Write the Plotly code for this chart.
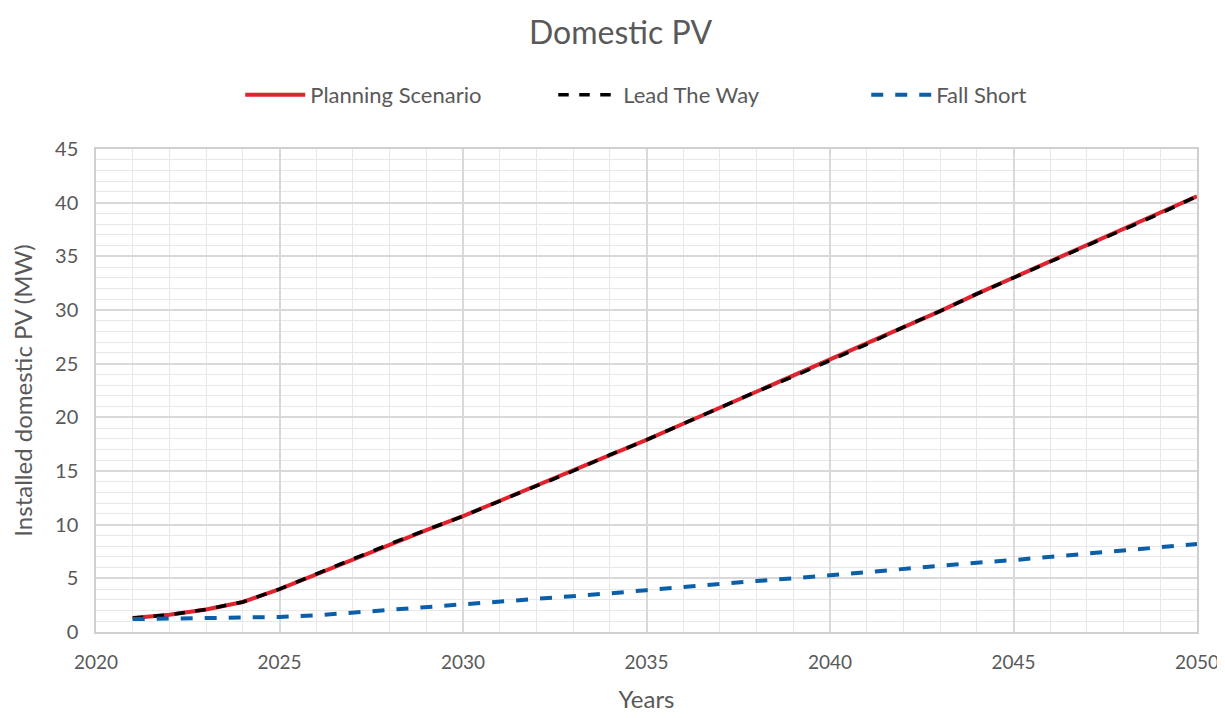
import plotly.graph_objects as go

years = list(range(2021, 2051))
planning = [1.3, 1.6, 2.1, 2.8, 4.0, 5.4, 6.8, 8.2, 9.5, 10.8,
            12.2, 13.6, 15.0, 16.5, 17.9, 19.4, 20.9, 22.4, 23.8, 25.3,
            26.8, 28.4, 29.9, 31.5, 33.0, 34.5, 36.0, 37.5, 39.0, 40.6]
lead_the_way = list(planning)
fall_short = [1.2, 1.25, 1.3, 1.35, 1.4, 1.55, 1.8, 2.05, 2.3, 2.6,
              2.85, 3.1, 3.35, 3.6, 3.9, 4.2, 4.45, 4.75, 5.0, 5.3,
              5.6, 5.9, 6.15, 6.45, 6.7, 7.0, 7.3, 7.6, 7.9, 8.2]

font_family = "Lato, 'Open Sans', sans-serif"
text_col = "#595959"

fig = go.Figure()
fig.add_trace(go.Scatter(x=years, y=planning, mode="lines", name="Planning Scenario",
                         line=dict(color="#e0242f", width=4)))
fig.add_trace(go.Scatter(x=years, y=lead_the_way, mode="lines", name="Lead The Way",
                         line=dict(color="#000000", width=3.5, dash="dash")))
fig.add_trace(go.Scatter(x=years, y=fall_short, mode="lines", name="Fall Short",
                         line=dict(color="#0a5fa8", width=4, dash="dash")))

fig.update_layout(
    width=1225, height=718,
    paper_bgcolor="white", plot_bgcolor="white",
    margin=dict(l=88, r=36, t=141, b=94, autoexpand=False),
    font=dict(family=font_family, color=text_col, size=20),
    title=dict(text="Domestic PV", x=0.5, xanchor="center", y=0.966, yanchor="middle",
               font=dict(size=32, color=text_col)),
    legend=dict(orientation="h", x=0.131, xanchor="left", y=1.112, yanchor="middle",
                font=dict(size=22, color=text_col), itemwidth=60, entrywidth=238),
    showlegend=True,
)
fig.update_xaxes(
    range=[2020, 2050], dtick=5, tick0=2020, automargin=False,
    showgrid=True, gridcolor="#d9d9d9", gridwidth=1.5,
    minor=dict(dtick=1, showgrid=True, gridcolor="#e8e8e8", gridwidth=1),
    showline=True, linecolor="#d0d0d0", linewidth=1.5, mirror=True,
    ticks="", zeroline=False, ticklabelstandoff=12,
    title=dict(text="Years", font=dict(size=24, color=text_col), standoff=20),
    tickfont=dict(size=19, color=text_col),
)
fig.update_yaxes(
    range=[0, 45], dtick=5, automargin=False,
    showgrid=True, gridcolor="#d9d9d9", gridwidth=1.5,
    minor=dict(dtick=1, showgrid=True, gridcolor="#e8e8e8", gridwidth=1),
    showline=True, linecolor="#d0d0d0", linewidth=1.5, mirror=True,
    ticks="", zeroline=False, ticklabelstandoff=12,
    title=dict(text="Installed domestic PV (MW)", font=dict(size=24, color=text_col), standoff=18),
    tickfont=dict(size=20, color=text_col),
)

fig.write_html("out.html")
